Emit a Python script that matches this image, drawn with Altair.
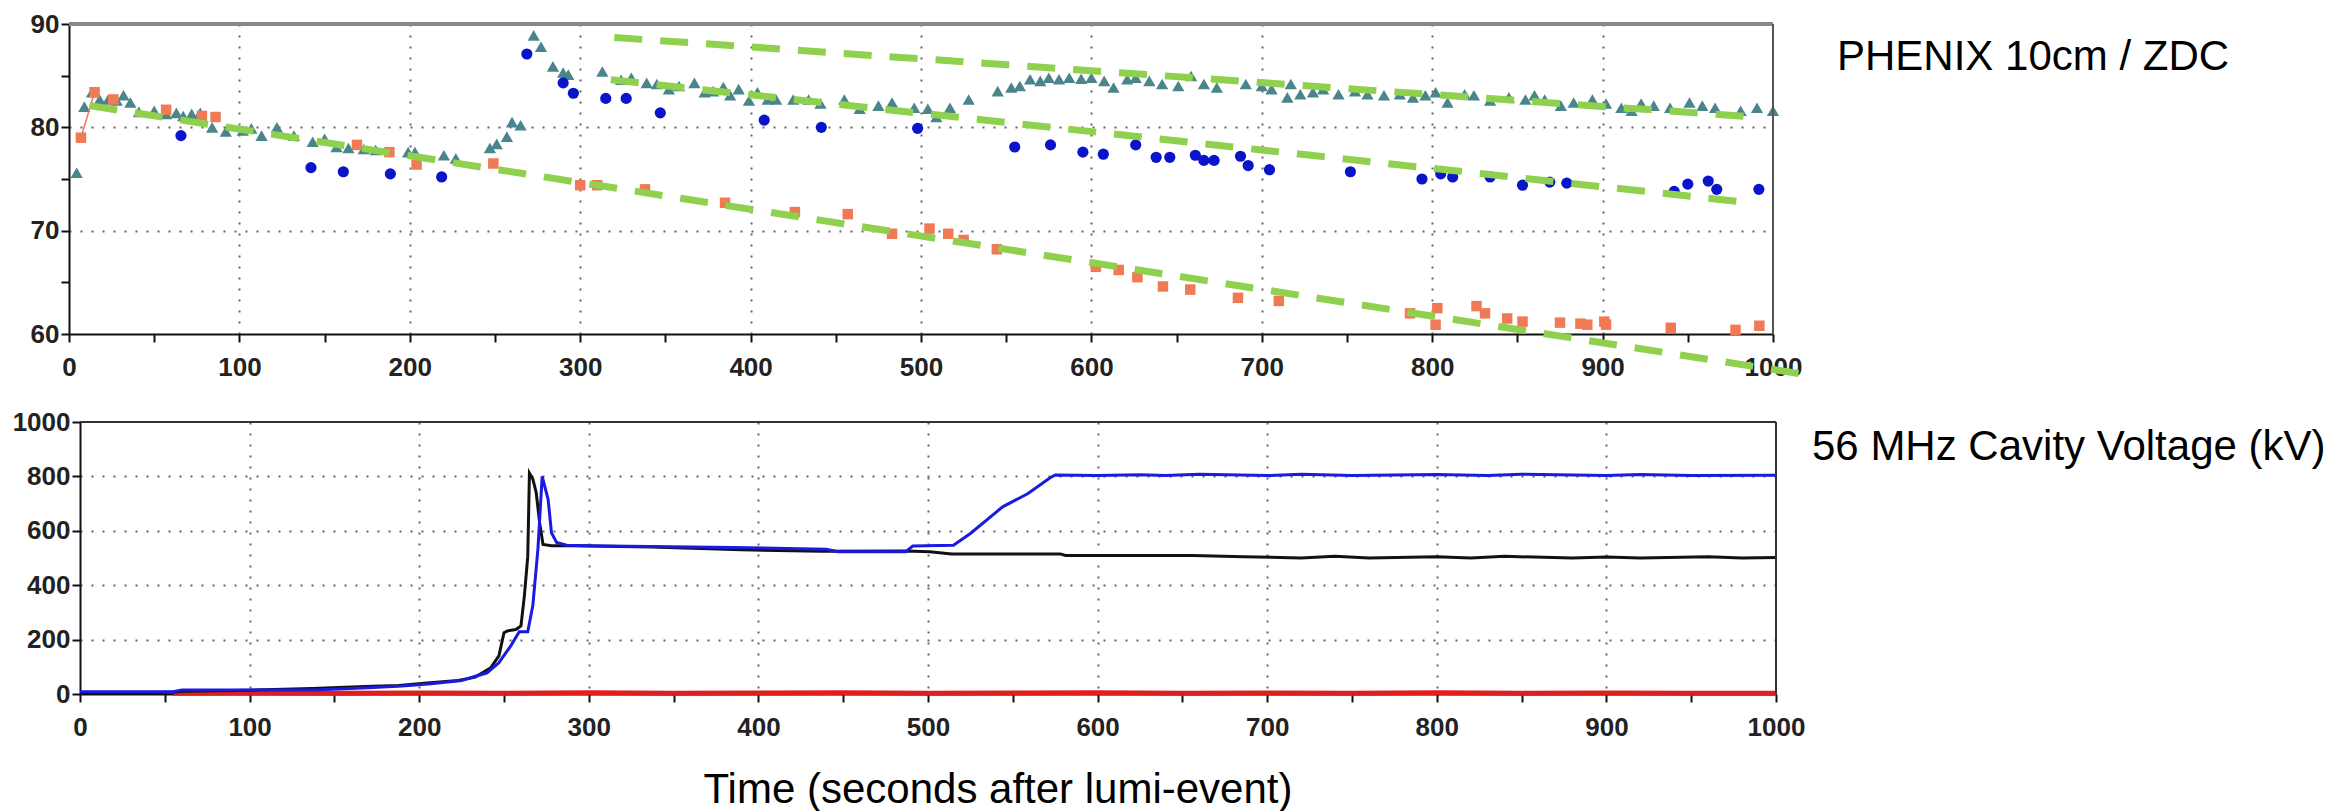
import altair as alt
import pandas as pd

# ---------------- top panel: PHENIX 10cm / ZDC ----------------
teal_t = [4.5, 9, 13.5, 18, 23, 28, 32, 36, 41, 50, 57, 63, 67, 72, 77, 84, 92, 102, 107, 113,
          122, 132, 143, 150, 157, 164, 173, 180, 199, 203, 220, 227, 247, 251, 257, 260, 265,
          272.7, 277, 284, 290, 293, 313, 324, 330, 339, 345, 352, 358, 367, 373, 378, 384, 388,
          393, 399, 404, 410, 415, 425, 434, 441, 455, 464, 475, 483, 496, 504, 509, 517, 528,
          545, 553, 558, 564, 570, 575, 581, 587, 594, 600, 607.5, 613, 621, 626, 634, 641.5,
          651, 658.5, 666, 673.6, 690.6, 700, 705.7, 715, 717, 722.6, 730, 736, 745, 754.7, 762,
          771.7, 781, 788.7, 796, 802, 809, 819, 824.5, 834, 845, 854.7, 860, 866, 875.5, 883,
          894, 902, 911, 917, 922.6, 930, 939.6, 951, 958.5, 966, 981, 990.6, 1000]
teal_v = [75.6, 82.0, 83.4, 82.7, 82.7, 82.6, 83.1, 82.4, 81.5, 81.6, 81.3, 81.4, 81.1, 81.3, 81.4,
          80.0, 79.6, 79.7, 79.9, 79.2, 80.0, 79.2, 78.6, 78.9, 78.1, 78.0, 77.9, 77.8, 77.6, 77.6,
          77.3, 77.0, 78.0, 78.4, 79.1, 80.5, 80.2, 88.9, 87.8, 85.9, 85.3, 85.1, 85.4, 84.6, 84.8,
          84.3, 84.2, 83.7, 84.0, 84.3, 83.4, 83.5, 83.9, 83.1, 83.7, 82.6, 83.4, 82.7, 82.7, 82.7,
          82.7, 82.3, 82.7, 81.8, 82.1, 82.4, 81.9, 81.8, 81.0, 81.9, 82.7, 83.5, 83.85, 84.0,
          84.65, 84.5, 84.8, 84.65, 84.8, 84.7, 84.8, 84.5, 83.85, 84.65, 84.8, 84.5, 84.2, 84.0,
          84.97, 84.2, 83.85, 84.2, 84.0, 83.7, 82.9, 84.2, 83.2, 83.4, 83.7, 83.2, 83.5, 83.2,
          83.1, 83.2, 82.9, 83.1, 83.4, 82.4, 83.2, 83.1, 82.6, 82.9, 82.7, 83.1, 82.7, 82.1,
          82.4, 82.7, 82.3, 81.9, 81.6, 82.3, 82.1, 81.9, 82.4, 82.1, 81.9, 81.6, 81.9, 81.6]

blue_t = [65.7, 142, 161, 188.6, 218.7, 268.7, 290, 296, 315, 327, 347, 408, 441.5, 498, 555, 576,
          595, 607, 626, 638, 646, 661, 666, 672, 687.5, 692, 704.5, 752, 794, 805, 812, 834, 853,
          869, 879, 942, 950, 962, 967, 991.7]
blue_v = [79.2, 76.1, 75.7, 75.5, 75.2, 87.1, 84.3, 83.3, 82.8, 82.8, 81.4, 80.7, 80.0, 79.9, 78.1,
          78.3, 77.6, 77.4, 78.3, 77.1, 77.1, 77.3, 76.8, 76.8, 77.2, 76.3, 75.9, 75.7, 75.0, 75.5,
          75.2, 75.2, 74.4, 74.7, 74.6, 73.8, 74.5, 74.8, 74.0, 74.0]

orange_t = [7, 15, 26, 57, 78, 86, 169, 188, 204, 249, 300, 310, 338, 385, 426, 457, 483, 505, 516,
            525, 544.5, 602.6, 616, 627, 642, 658, 686, 710, 787, 803, 802, 826, 831, 844, 853, 875,
            887, 891, 901, 902, 940, 978, 992]
orange_v = [79.0, 83.4, 82.7, 81.7, 81.1, 81.0, 78.3, 77.6, 76.4, 76.5, 74.4, 74.4, 74.0, 72.7,
            71.8, 71.6, 69.7, 70.2, 69.7, 69.1, 68.2, 66.5, 66.2, 65.5, 64.6, 64.3, 63.5, 63.2,
            62.0, 62.5, 60.9, 62.7, 62.0, 61.5, 61.2, 61.1, 61.0, 60.9, 61.2, 60.9, 60.6, 60.4, 60.8]
orange_link_t = [7, 15]
orange_link_v = [79.0, 83.4]

fit_id = ["a", "a", "b", "b", "c", "c"]
fit_t = [12, 1018, 318, 987, 320, 989]
fit_v = [82.1, 56.1, 84.6, 72.7, 88.7, 81.0]

# ---------------- bottom panel: 56 MHz cavity voltage ----------------
black_t = [0, 30, 55, 60, 100, 137, 168, 188, 203, 223, 233, 242, 247, 250, 252, 257, 260, 262,
           264, 265, 267, 269, 271, 273, 278, 290, 337, 390, 437, 487, 501, 514, 578, 581, 656,
           686, 720, 740, 760, 800, 820, 840, 880, 900, 920, 960, 980, 1000]
black_v = [5, 5, 6, 10, 14, 20, 28, 31, 40, 50, 62, 95, 140, 225, 232, 237, 250, 360, 505, 812,
           790, 740, 630, 550, 545, 545, 540, 530, 525, 526, 523, 515, 515, 509, 509, 505, 500,
           506, 500, 505, 500, 506, 500, 504, 500, 505, 500, 502]

blue_line_t = [0, 55, 60, 138, 170, 190, 207, 225, 240, 247, 254, 259, 264, 267, 270, 272.5, 276,
               278, 281, 287, 300, 385, 440, 447, 487, 491, 515, 525, 544, 559, 572, 575, 600, 625,
               640, 660, 700, 720, 750, 800, 830, 850, 900, 920, 950, 1000]
blue_line_v = [8, 8, 15, 15, 23, 29, 38, 50, 78, 115, 177, 229, 229, 325, 533, 800, 716, 593, 557,
               547, 545, 539, 532, 523, 523, 544, 547, 590, 688, 737, 795, 805, 803, 806, 803, 808,
               803, 808, 803, 807, 803, 808, 803, 807, 803, 804]

red_t = [55, 100, 150, 200, 250, 300, 350, 400, 450, 500, 550, 600, 650, 700, 750, 800, 850, 900,
         950, 1000]
red_v = [3, 4, 3, 4, 3, 5, 3, 4, 5, 3, 4, 5, 3, 4, 3, 5, 3, 4, 3, 3]

TOP_LABEL = "PHENIX 10cm / ZDC"
BOTTOM_LABEL = "56 MHz Cavity Voltage (kV)"
X_TITLE = "Time (seconds after lumi-event)"

FONT = "Liberation Sans"
W1, H1 = 1704, 310
W2, H2 = 1707, 272
SHIFT = 11


def x_axis():
    return alt.Axis(
        values=list(range(0, 1001, 50)), format="d",
        labelExpr="datum.value % 100 === 0 ? datum.label : ''",
        grid=True, gridDash=[2, 9], gridColor="#666", gridWidth=2,
        gridOpacity={"condition": {"test": "datum.value % 100 === 0 && datum.value > 0 && datum.value < 1000",
                                   "value": 1}, "value": 0},
        domainColor="#111", domainWidth=2, tickColor="#111", tickWidth=2, tickSize=8,
        labelFont=FONT, labelFontSize=26, labelFontWeight="bold", labelColor="#222",
        labelPadding=12, labelFlush=False, labelOverlap=False, title=None)


def y_axis(step, labstep, lo, hi, offset=0):
    return alt.Axis(
        values=list(range(lo, hi + 1, step)), format="d",
        labelExpr="datum.value %% %d === 0 ? datum.label : ''" % labstep,
        grid=True, gridDash=[2, 9], gridColor="#666", gridWidth=2,
        gridOpacity={"condition": {"test": "datum.value %% %d === 0 && datum.value > %d && datum.value < %d"
                                   % (labstep, lo, hi), "value": 1}, "value": 0},
        domainColor="#111", domainWidth=2, tickColor="#111", tickWidth=2, tickSize=8,
        labelFont=FONT, labelFontSize=26, labelFontWeight="bold", labelColor="#222",
        labelPadding=2, labelFlush=False, labelOverlap=False, title=None, offset=offset)


sx_top = alt.Scale(domain=[0, 1000], nice=False, zero=False)
sy_top = alt.Scale(domain=[60, 90], nice=False, zero=False)

teal_df = pd.DataFrame({"t": teal_t, "v": teal_v})
blue_df = pd.DataFrame({"t": blue_t, "v": blue_v})
orange_df = pd.DataFrame({"t": orange_t, "v": orange_v})
link_df = pd.DataFrame({"t": orange_link_t, "v": orange_link_v})
fit_df = pd.DataFrame({"id": fit_id, "t": fit_t, "v": fit_v})
one = pd.DataFrame({"k": [0]})

tri = alt.Chart(teal_df).mark_point(shape="triangle-up", filled=True, size=150, color="#4a858c",
                                    opacity=1).encode(
    x=alt.X("t:Q", scale=sx_top, axis=x_axis()),
    y=alt.Y("v:Q", scale=sy_top, axis=y_axis(5, 10, 60, 90)))
circ = alt.Chart(blue_df).mark_point(shape="circle", filled=True, size=125, color="#0a14c8",
                                     opacity=1).encode(
    x=alt.X("t:Q", scale=sx_top), y=alt.Y("v:Q", scale=sy_top))
link = alt.Chart(link_df).mark_line(color="#f07a55", strokeWidth=1.5).encode(
    x=alt.X("t:Q", scale=sx_top), y=alt.Y("v:Q", scale=sy_top))
sq = alt.Chart(orange_df).mark_point(shape="square", filled=True, size=110, color="#f07a55",
                                     opacity=1).encode(
    x=alt.X("t:Q", scale=sx_top), y=alt.Y("v:Q", scale=sy_top))
fits = alt.Chart(fit_df).mark_line(color="#8fd14f", strokeWidth=7, strokeDash=[28, 18],
                                   clip=False).encode(
    x=alt.X("t:Q", scale=sx_top), y=alt.Y("v:Q", scale=sy_top), detail="id:N")
top_border = alt.Chart(one).mark_rule(color="#888", strokeWidth=4).encode(
    x=alt.value(0), x2=alt.value(W1), y=alt.value(0))
right_border = alt.Chart(one).mark_rule(color="#555", strokeWidth=2).encode(
    x=alt.value(W1), y=alt.value(0), y2=alt.value(H1))
top_text = alt.Chart(pd.DataFrame({"label": [TOP_LABEL]})).mark_text(
    align="left", baseline="alphabetic", font=FONT, fontSize=42, color="#000").encode(
    x=alt.value(1768), y=alt.value(46), text="label:N")

top = alt.layer(tri, circ, link, sq, fits, top_border, right_border, top_text).properties(
    width=W1, height=H1)

sx_bot = alt.Scale(domain=[0, 1000], range=[SHIFT, W2], nice=False, zero=False)
sy_bot = alt.Scale(domain=[0, 1000], nice=False)

red_df = pd.DataFrame({"t": red_t, "v": red_v})
black_df = pd.DataFrame({"t": black_t, "v": black_v})
bl_df = pd.DataFrame({"t": blue_line_t, "v": blue_line_v})

red_line = alt.Chart(red_df).mark_line(color="#e01e1e", strokeWidth=5).encode(
    x=alt.X("t:Q", scale=sx_bot, axis=x_axis()),
    y=alt.Y("v:Q", scale=sy_bot, axis=y_axis(100, 200, 0, 1000, offset=-SHIFT)))
black_line = alt.Chart(black_df).mark_line(color="#111", strokeWidth=3).encode(
    x=alt.X("t:Q", scale=sx_bot), y=alt.Y("v:Q", scale=sy_bot))
blue_line = alt.Chart(bl_df).mark_line(color="#1a1ae0", strokeWidth=3).encode(
    x=alt.X("t:Q", scale=sx_bot), y=alt.Y("v:Q", scale=sy_bot))
b_top = alt.Chart(one).mark_rule(color="#333", strokeWidth=2).encode(
    x=alt.value(SHIFT), x2=alt.value(W2), y=alt.value(0))
b_right = alt.Chart(one).mark_rule(color="#333", strokeWidth=2).encode(
    x=alt.value(W2), y=alt.value(0), y2=alt.value(H2))
bot_text = alt.Chart(pd.DataFrame({"label": [BOTTOM_LABEL]})).mark_text(
    align="left", baseline="alphabetic", font=FONT, fontSize=42, color="#000").encode(
    x=alt.value(1743), y=alt.value(38), text="label:N")
title_text = alt.Chart(pd.DataFrame({"label": [X_TITLE]})).mark_text(
    align="center", baseline="alphabetic", font=FONT, fontSize=42, color="#000").encode(
    x=alt.value(929), y=alt.value(381), text="label:N")

bottom = alt.layer(red_line, black_line, blue_line, b_top, b_right, bot_text, title_text).properties(
    width=W2, height=H2)

chart = alt.vconcat(top, bottom, spacing=88, bounds="flush").properties(
    padding={"left": 4, "top": 3, "right": 0, "bottom": 0}
).configure_view(stroke=None)

chart.save("out.html", embed_options={"renderer": "svg", "actions": False})
